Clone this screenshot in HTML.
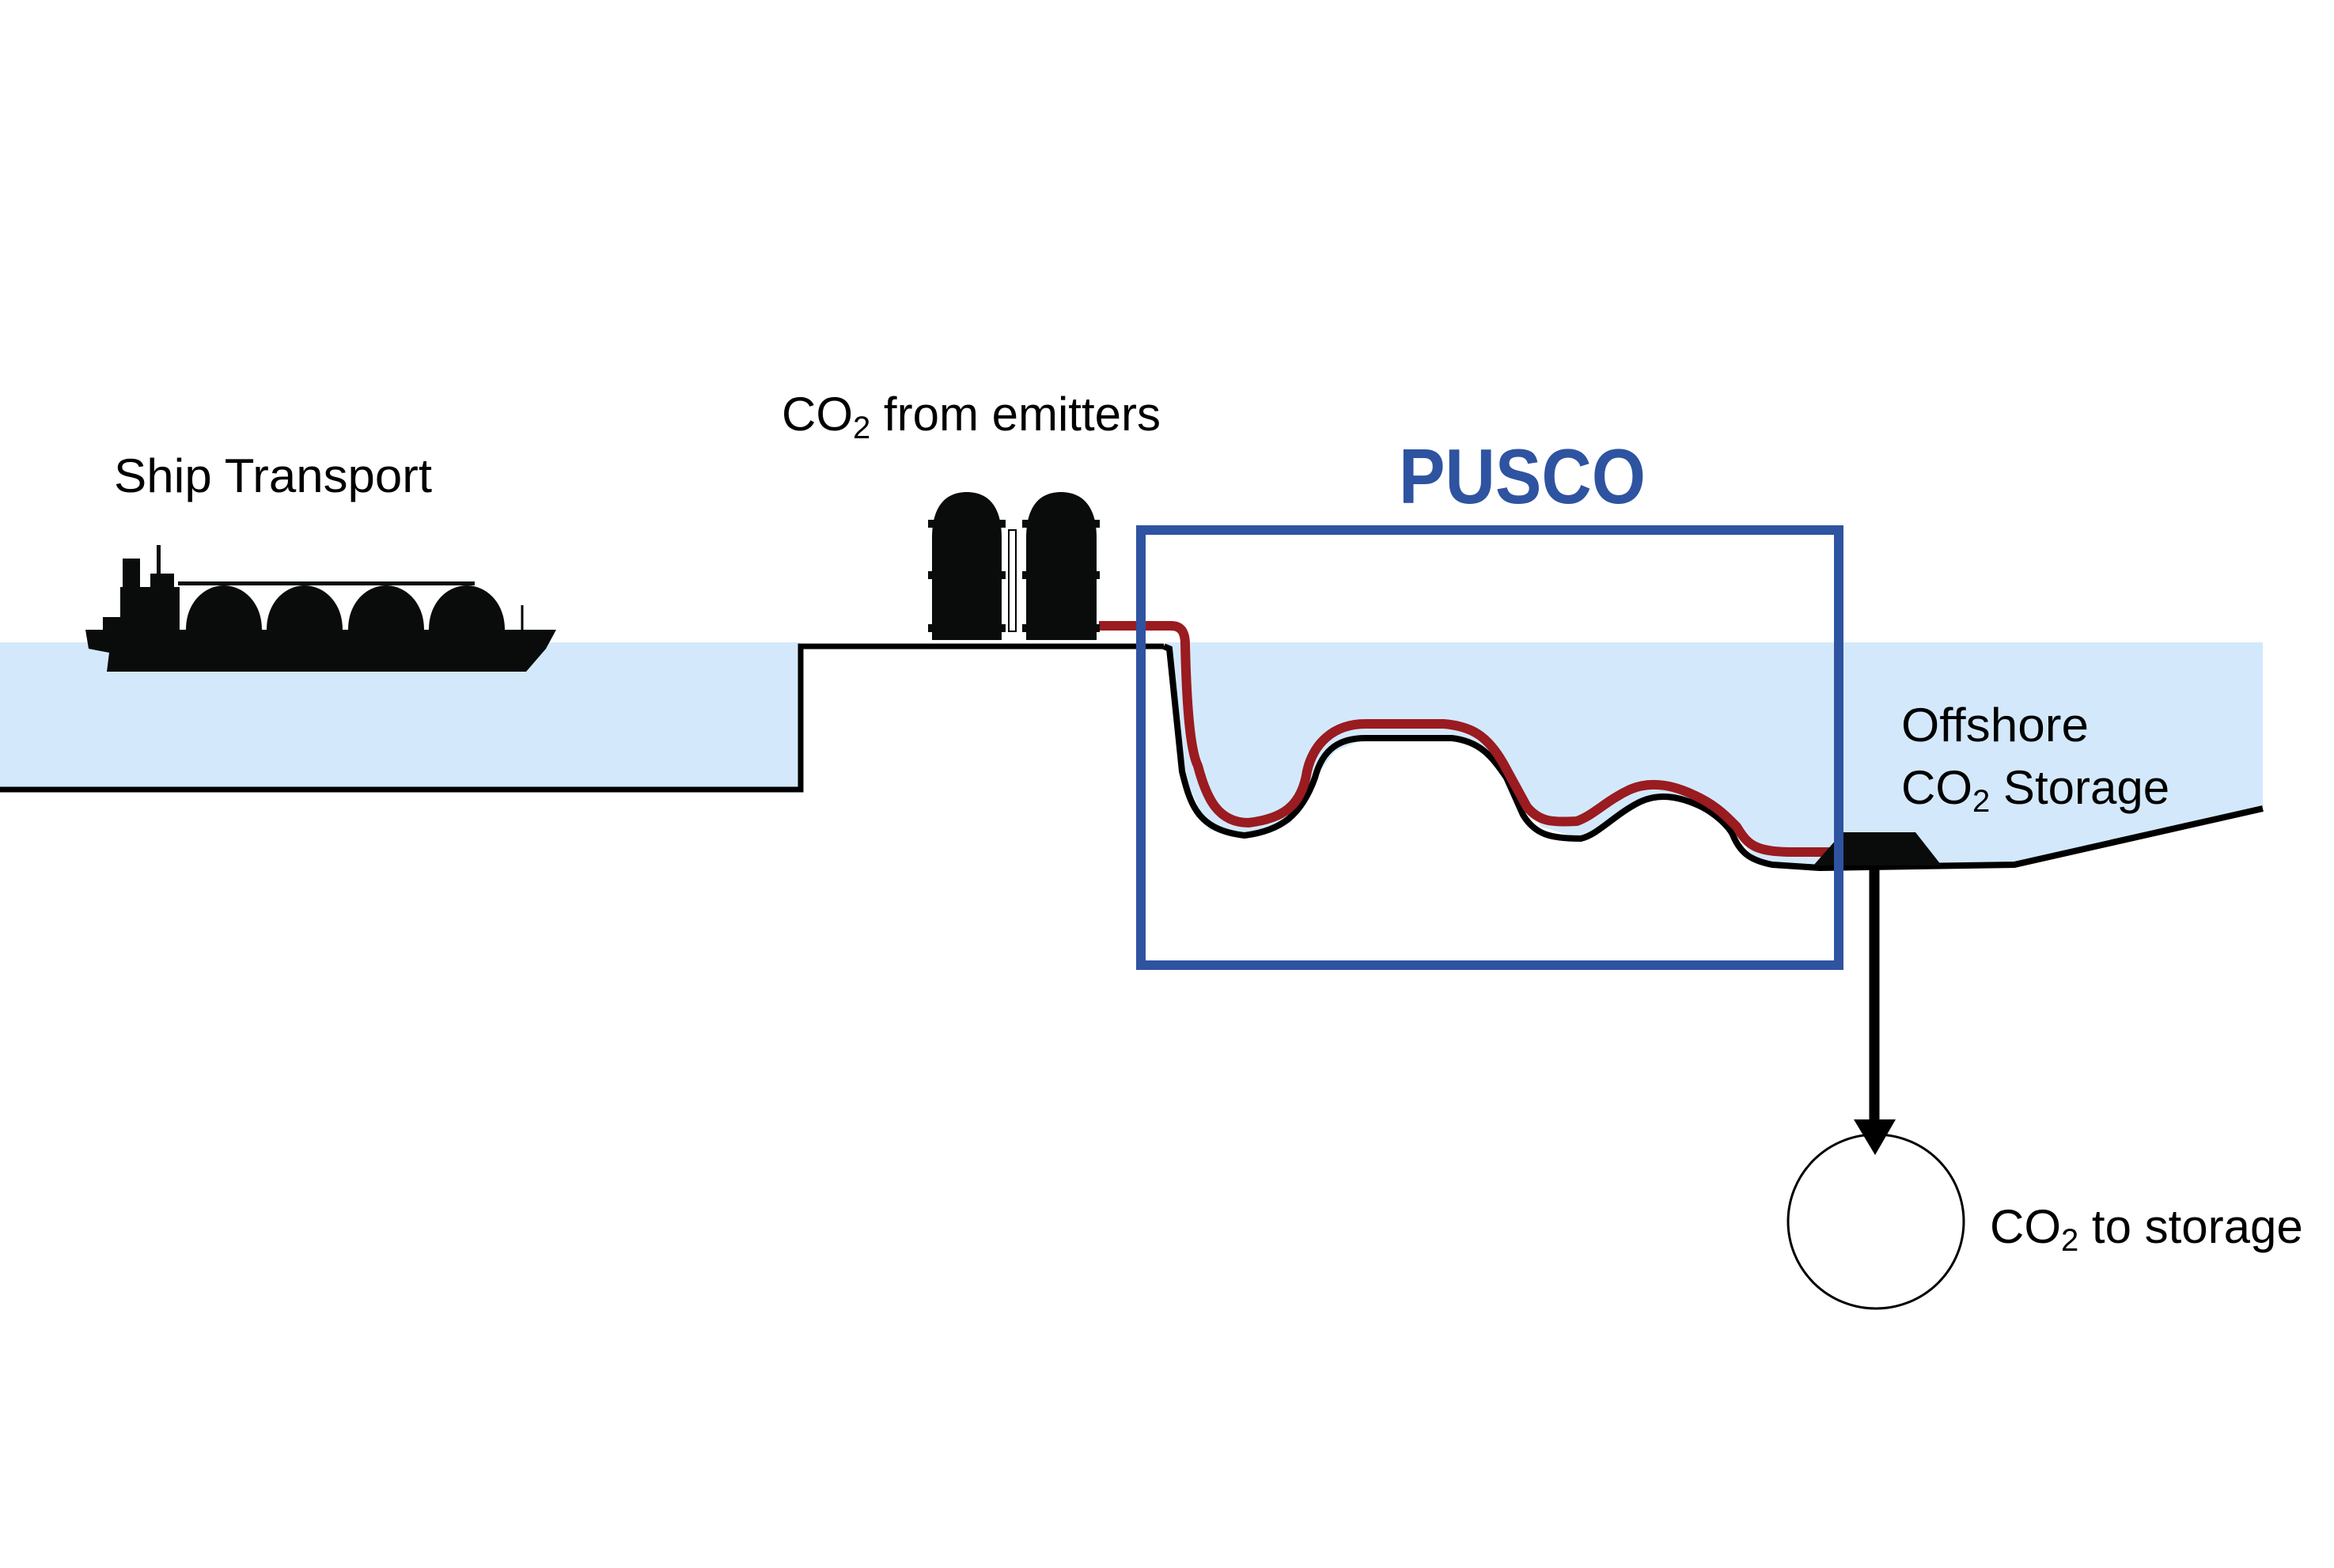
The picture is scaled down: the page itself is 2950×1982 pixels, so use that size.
<!DOCTYPE html>
<html><head><meta charset="utf-8"><style>html,body{margin:0;padding:0;background:#fff}svg{display:block}</style></head>
<body>
<svg width="2950" height="1982" viewBox="0 0 2950 1982" xmlns="http://www.w3.org/2000/svg" font-family="Liberation Sans, sans-serif">
<rect x="0" y="812" width="1012" height="186" fill="#d3e9fb"/>
<path d="M1474,812 L2860,812 L2860,1022 L2546,1093 L2292,1097 L2220,1086 L2190,1051 L2151,1020 L2111,1008 L2072,1014 L2032,1042 L1998,1060 L1948,1045 L1904,983 L1874,950 L1835,933 L1726,933 L1687,950 L1662,983 L1632,1040 L1573,1056 L1528,1049 L1494,975 Z" fill="#d3e9fb"/>
<path d="M0,998 L1012,998 L1012,817 L1471,817" fill="none" stroke="#000" stroke-width="7"/>
<path d="M1471,817 L1478,820 L1494,975 C1505,1020 1515,1049 1573,1056 C1620,1050 1645,1030 1662,983 C1672,945 1695,933 1726,933 L1835,933 C1870,937 1885,955 1904,983 L1925,1030 C1940,1055 1960,1060 1998,1060 C2020,1055 2040,1030 2072,1014 C2095,1003 2120,1005 2151,1020 C2170,1030 2185,1045 2190,1055 C2200,1080 2215,1088 2240,1093 L2300,1097 L2546,1093 L2860,1022" fill="none" stroke="#000" stroke-width="8"/>
<path d="M1389,791 L1480,791 C1494,791 1498,800 1498,815 C1500,900 1505,950 1514,968 C1525,1010 1540,1040 1578,1040 C1620,1035 1645,1020 1652,975 C1660,940 1685,915 1726,915 L1825,915 C1860,918 1880,930 1900,965 L1930,1020 C1945,1038 1960,1040 1993,1038 C2015,1030 2030,1012 2060,998 C2090,985 2120,995 2141,1005 C2170,1018 2185,1035 2195,1045 C2210,1070 2220,1077 2270,1077 L2312,1077" fill="none" stroke="#9a1b20" stroke-width="12"/>
<path d="M2329,1052 L2421,1052 L2454,1094 L2292,1094 Z" fill="#0a0c0c"/>
<line x1="2369" y1="1094" x2="2369" y2="1420" stroke="#000" stroke-width="13"/>
<path d="M2343,1415 L2396,1415 L2370,1460 Z" fill="#000"/>
<ellipse cx="2371" cy="1544" rx="111" ry="110" fill="none" stroke="#000" stroke-width="3"/>
<rect x="1442" y="670" width="882" height="550" fill="none" stroke="#2e53a0" stroke-width="12"/>
<text x="1768" y="636" font-size="98" font-weight="bold" fill="#2e53a0" textLength="312" lengthAdjust="spacingAndGlyphs">PUSCO</text>
<g fill="#0a0c0c">
<path d="M1178,809 L1178,680 C1178,640 1195,622 1222,622 C1249,622 1266,640 1266,680 L1266,809 Z"/>
<path d="M1297,809 L1297,680 C1297,640 1314,622 1341,622 C1368,622 1386,640 1386,680 L1386,809 Z"/>
<rect x="1173" y="657" width="98" height="10"/><rect x="1173" y="722" width="98" height="10"/><rect x="1173" y="789" width="98" height="10"/>
<rect x="1292" y="657" width="98" height="10"/><rect x="1292" y="722" width="98" height="10"/><rect x="1292" y="789" width="98" height="10"/>
</g>
<rect x="1275" y="670" width="9" height="128" fill="none" stroke="#000" stroke-width="2"/>
<g fill="#0a0c0c">
<path d="M108,796 L703,796 L690,820 L665,849 L135,849 L138,825 L112,820 Z"/>
<path d="M235,796 C235,760 260,740 283,740 C306,740 331,760 331,796 Z"/>
<path d="M337,796 C337,760 362,740 385,740 C408,740 433,760 433,796 Z"/>
<path d="M440,796 C440,760 465,740 488,740 C511,740 536,760 536,796 Z"/>
<path d="M542,796 C542,760 567,740 590,740 C613,740 638,760 638,796 Z"/>
<rect x="152" y="742" width="75" height="56"/>
<rect x="155" y="706" width="22" height="40"/>
<rect x="190" y="725" width="30" height="20"/>
<rect x="198" y="689" width="5" height="40"/>
<rect x="225" y="735" width="375" height="5"/>
<rect x="130" y="780" width="25" height="18"/>
</g>
<line x1="660" y1="765" x2="660" y2="796" stroke="#000" stroke-width="3"/>
<text x="144" y="622" font-size="60" fill="#000" textLength="402" lengthAdjust="spacingAndGlyphs">Ship Transport</text>
<text x="988" y="544" font-size="60" fill="#000">CO<tspan font-size="40" dy="10">2</tspan><tspan dy="-10"> from emitters</tspan></text>
<text x="2403" y="937" font-size="60" fill="#000" textLength="237" lengthAdjust="spacingAndGlyphs">Offshore</text>
<text x="2403" y="1016" font-size="60" fill="#000">CO<tspan font-size="40" dy="10">2</tspan><tspan dy="-10"> Storage</tspan></text>
<text x="2515" y="1571" font-size="60" fill="#000">CO<tspan font-size="40" dy="10">2</tspan><tspan dy="-10"> to storage</tspan></text>
</svg>
</body></html>
